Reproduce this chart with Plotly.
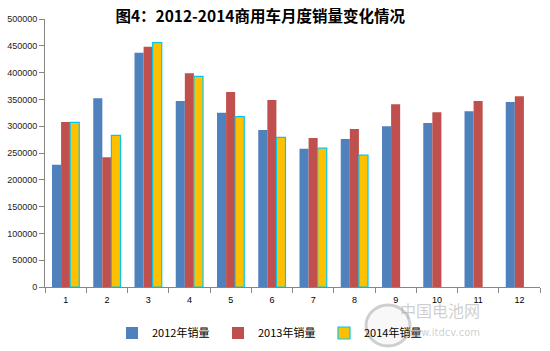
import plotly.graph_objects as go

months = ["1", "2", "3", "4", "5", "6", "7", "8", "9", "10", "11", "12"]
sales_2012 = [228000, 352000, 437000, 347000, 325000, 293000, 258000, 276000, 300000, 306000, 328000, 345000]
sales_2013 = [308000, 242000, 448000, 399000, 364000, 349000, 278000, 295000, 341000, 326000, 347000, 356000]
sales_2014 = [307000, 283000, 456000, 393000, 318000, 279000, 259000, 246000, None, None, None, None]
series_names = ["2012年销量", "2013年销量", "2014年销量"]
y_ticks = [0, 50000, 100000, 150000, 200000, 250000, 300000, 350000, 400000, 450000, 500000]

fig = go.Figure()
fig.add_trace(go.Bar(x=months, y=sales_2012, name=series_names[0],
                     marker=dict(color="#4F81BD", line=dict(width=0))))
fig.add_trace(go.Bar(x=months, y=sales_2013, name=series_names[1],
                     marker=dict(color="#C0504D", line=dict(width=0))))
fig.add_trace(go.Bar(x=months, y=sales_2014, name=series_names[2],
                     marker=dict(color="#FFC000", line=dict(color="#00C8F0", width=1.2))))

fig.update_layout(
    width=550, height=351,
    margin=dict(l=45, r=10, t=19, b=64, autoexpand=False),
    paper_bgcolor="white", plot_bgcolor="white",
    barmode="group", bargap=0.34, bargroupgap=0,
    font=dict(family="Liberation Sans, Arial, sans-serif", size=9, color="#222"),
    title=dict(text="<b>图4：2012-2014商用车月度销量变化情况</b>",
               font=dict(family="Noto Sans CJK SC", size=15.5, color="#000"),
               x=0.473, xanchor="center", y=0.953, yanchor="middle"),
    legend=dict(orientation="h", xref="container", yref="container",
                x=112 / 550, xanchor="left", y=18 / 351, yanchor="middle",
                font=dict(family="Noto Sans CJK SC, Liberation Sans", size=11, color="#000"),
                entrywidth=61, entrywidthmode="pixels", itemwidth=30,
                bgcolor="rgba(0,0,0,0)"),
    showlegend=True,
)
fig.update_xaxes(type="category", showgrid=False, showline=True, linecolor="#868686", linewidth=1,
                 ticks="outside", tickson="boundaries", ticklen=5, tickcolor="#868686",
                 ticklabelstandoff=4,
                 tickfont=dict(size=9, color="#000"))
fig.update_yaxes(range=[0, 500000], tickvals=y_ticks, ticktext=[str(v) for v in y_ticks],
                 showgrid=False, showline=True, linecolor="#868686", linewidth=1,
                 ticks="outside", ticklen=5, tickcolor="#868686", zeroline=False,
                 tickfont=dict(size=9, color="#222"))

# watermark
fig.add_shape(type="circle", xref="paper", yref="paper",
              x0=(366 - 45) / 495, x1=(410 - 45) / 495,
              y0=(287 - 346) / 268, y1=(287 - 305) / 268,
              line=dict(color="rgba(150,150,150,0.45)", width=3),
              fillcolor="rgba(235,235,235,0.35)")
fig.add_annotation(text="中国电池网", xref="paper", yref="paper",
                   x=(482 - 45) / 495, y=(287 - 324) / 268, showarrow=False,
                   font=dict(family="Noto Sans CJK SC", size=16, color="rgba(160,160,160,0.5)"))
fig.add_annotation(text="www.itdcv.com", xref="paper", yref="paper",
                   x=(482 - 45) / 495, y=(287 - 340) / 268, showarrow=False,
                   font=dict(family="DejaVu Sans", size=10, color="rgba(160,160,160,0.5)"))

fig.write_html("out.html")
